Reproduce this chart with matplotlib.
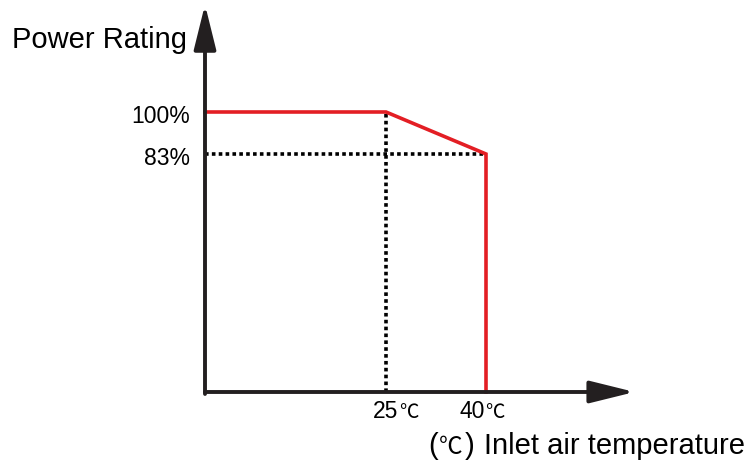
import matplotlib
matplotlib.use("Agg")
import matplotlib.pyplot as plt

# derating curve (temperature in C, power rating in %)
temp = [25, 40]
rating = [100, 83]
x_ticks = [25, 40]
x_tick_labels = ["25", "40"]
y_ticks = [100, 83]
y_tick_labels = ["100%", "83%"]

# schematic axis origin / ends (data units)
x0, y0 = -2.15, -13.33
x_end, y_end = 62.3, 143.5

fonts = ["Liberation Sans", "Noto Sans CJK SC", "DejaVu Sans"]
cjk = ["Noto Sans CJK SC", "DejaVu Sans"]
plt.rcParams["font.family"] = fonts

red = "#e31e24"
dark = "#231f20"

fig = plt.figure(figsize=(7.47, 4.67), dpi=100)
ax = fig.add_axes([0, 0, 1, 1])
ax.set_xlim(-32.9, 79.15)
ax.set_ylim(-43.69, 145.33)
ax.axis("off")

# dotted guides
ax.plot([temp[0], temp[0]], [y0, rating[0]], color="black", lw=2.6,
        ls=(0, (1, 0.9)), dash_capstyle="butt", zorder=2)
ax.plot([x0, temp[1]], [rating[1], rating[1]], color="black", lw=2.6,
        ls=(0, (1, 0.9)), dash_capstyle="butt", zorder=2)

# red curve
ax.plot([x0] + temp + [temp[-1]], [rating[0]] + rating + [y0],
        color=red, lw=2.6, solid_joinstyle="miter", zorder=3)

# axes with arrows
arrow = dict(arrowstyle="-|>,head_length=2.75,head_width=0.68", lw=2.8,
             color=dark, mutation_scale=10, shrinkA=0, shrinkB=0)
ax.annotate("", xy=(x_end, y0), xytext=(x0, y0), arrowprops=arrow, zorder=4)
ax.annotate("", xy=(x0, y_end), xytext=(x0, y0 - 0.8), arrowprops=arrow, zorder=4)

# y tick labels
for v, lab in zip(y_ticks, y_tick_labels):
    ax.annotate(lab, xy=(x0, v), xytext=(-11, -3.5), textcoords="offset points",
                ha="right", va="center", fontsize=16.5, color="black")

# x tick labels
offsets = [9, -1]
for v, lab, dx in zip(x_ticks, x_tick_labels, offsets):
    ax.annotate(lab, xy=(v, y0), xytext=(dx, -19), textcoords="offset points",
                ha="right", va="baseline", fontsize=16.5, color="black")
    ax.annotate("\u2103", xy=(v, y0), xytext=(dx + 0.5, -19), textcoords="offset points",
                ha="left", va="baseline", fontsize=14, color="black",
                family=cjk, fontweight="light")

fig.text(12 / 747, 1 - 48 / 467, "Power Rating", fontsize=21, va="baseline",
         ha="left", color="black")

# x axis title: "(" + thin CJK degree sign + ") Inlet air temperature"
base = 1 - 454 / 467
fig.text(428 / 747, base, "(", fontsize=21, va="baseline", ha="left")
fig.text(439 / 747, base, "\u2103", fontsize=17, va="baseline", ha="left",
         family=cjk, fontweight="light")
fig.text(465 / 747, base, ")", fontsize=21, va="baseline", ha="left")
fig.text(745 / 747, base, "Inlet air temperature", fontsize=21,
         va="baseline", ha="right", color="black")

fig.savefig("out.png", dpi=100)
